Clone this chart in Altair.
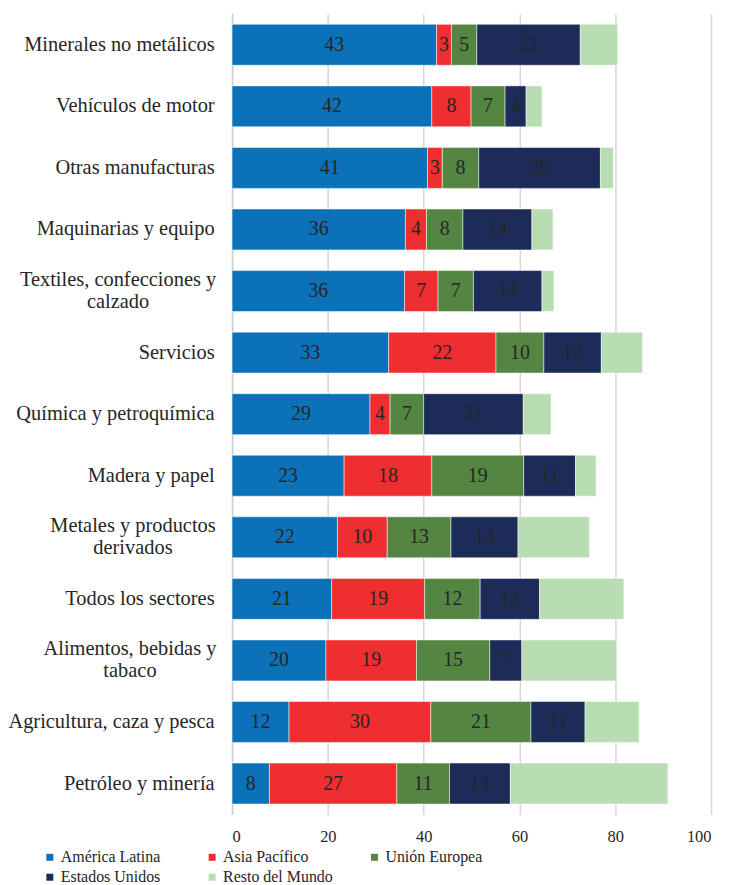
import altair as alt
import pandas as pd

categories = [
    "Minerales no metálicos",
    "Vehículos de motor",
    "Otras manufacturas",
    "Maquinarias y equipo",
    "Textiles, confecciones y|calzado",
    "Servicios",
    "Química y petroquímica",
    "Madera y papel",
    "Metales y productos|derivados",
    "Todos los sectores",
    "Alimentos, bebidas y|tabaco",
    "Agricultura, caza y pesca",
    "Petróleo y minería",
]

series = ["América Latina", "Asia Pacífico", "Unión Europea", "Estados Unidos", "Resto del Mundo"]
colors = ["#0b72b9", "#ee2e2f", "#548542", "#1c2b58", "#b9ddb3"]

america_latina = [42.7, 41.7, 40.8, 36.2, 36.0, 32.7, 28.8, 23.4, 22.0, 20.8, 19.6, 11.9, 7.8]
asia_pacifico = [3.1, 8.2, 3.1, 4.4, 7.0, 22.4, 4.2, 18.3, 10.4, 19.4, 18.9, 29.6, 26.6]
union_europea = [5.3, 7.1, 7.6, 7.6, 7.4, 10.0, 7.0, 19.2, 13.3, 11.6, 15.3, 20.9, 11.0]
estados_unidos = [21.6, 4.4, 25.4, 14.4, 14.3, 12.0, 20.8, 10.8, 14.0, 12.4, 6.7, 11.3, 12.7]
resto_mundo = [7.8, 3.3, 2.7, 4.4, 2.5, 8.6, 5.8, 4.3, 14.9, 17.6, 19.8, 11.3, 32.9]

x_ticks = [0, 20, 40, 60, 80, 100]

values = [america_latina, asia_pacifico, union_europea, estados_unidos, resto_mundo]
rows = []
for si, (s, vals) in enumerate(zip(series, values)):
    for c, v in zip(categories, vals):
        rows.append({"cat": c, "serie": s, "order": si, "value": v,
                     "show": s != "Resto del Mundo"})
df = pd.DataFrame(rows)

FONT = "Liberation Serif"

MULTI = "indexof(datum.value, '|') >= 0"

base = alt.Chart(df).transform_stack(
    stack="value", groupby=["cat"], sort=[alt.SortField("order")], as_=["x0", "x1"]
).transform_calculate(mid="(datum.x0 + datum.x1) / 2")

y_enc = alt.Y(
    "cat:N",
    sort=categories,
    scale=alt.Scale(paddingInner=0.335, paddingOuter=0.17),
    axis=alt.Axis(
        title=None, labelExpr="split(datum.label, '|')", labelFont=FONT,
        labelFontSize=20.5, labelColor="#262626", ticks=False,
        labelAlign={"condition": {"test": MULTI, "value": "center"}, "value": "right"},
        labelPadding={"condition": [
            {"test": "datum.value == '" + categories[4] + "'", "value": 115},
            {"test": "datum.value == '" + categories[8] + "'", "value": 100},
            {"test": "datum.value == '" + categories[10] + "'", "value": 103},
        ], "value": 18},
        labelOffset={"condition": {"test": MULTI, "value": -11}, "value": 0},
        domain=True, domainColor="#d0d0d0", domainWidth=1.5, labelLineHeight=22,
        labelLimit=300,
    ),
)

bars = base.mark_bar(stroke="white", strokeWidth=0.5).encode(
    y=y_enc,
    x=alt.X(
        "x0:Q",
        scale=alt.Scale(domain=[0, 100], nice=False),
        axis=alt.Axis(
            title=None, values=x_ticks, labelFont=FONT, labelFontSize=16.5,
            labelColor="#262626", grid=True, gridColor="#d6d6d6", gridWidth=1.5,
            ticks=False, domain=False, labelPadding=14,
        ),
    ),
    x2="x1:Q",
    color=alt.Color(
        "serie:N",
        scale=alt.Scale(domain=series, range=colors),
        legend=alt.Legend(
            title=None, orient="none", direction="horizontal", legendX=-191,
            legendY=839, columns=3, gridAlign="all", columnPadding=33, rowPadding=4,
            symbolType="square", symbolSize=49, symbolStrokeWidth=0, labelFont=FONT,
            labelFontSize=16, labelColor="#262626", labelOffset=3, padding=0,
            labelLimit=300,
        ),
    ),
)

labels = base.transform_filter("datum.show").mark_text(
    font=FONT, fontSize=20, color="#262626", baseline="middle", align="center"
).encode(
    y=alt.Y("cat:N", sort=categories),
    x="mid:Q",
    text=alt.Text("value:Q", format=".0f"),
)

chart = alt.layer(bars, labels).properties(
    width=481,
    height=804,
    padding={"left": 225, "top": 4, "right": 10, "bottom": 85},
    autosize=alt.AutoSizeParams(type="none"),
).configure_view(stroke=None)

chart.save("out.html", embed_options={"renderer": "svg", "actions": False})
